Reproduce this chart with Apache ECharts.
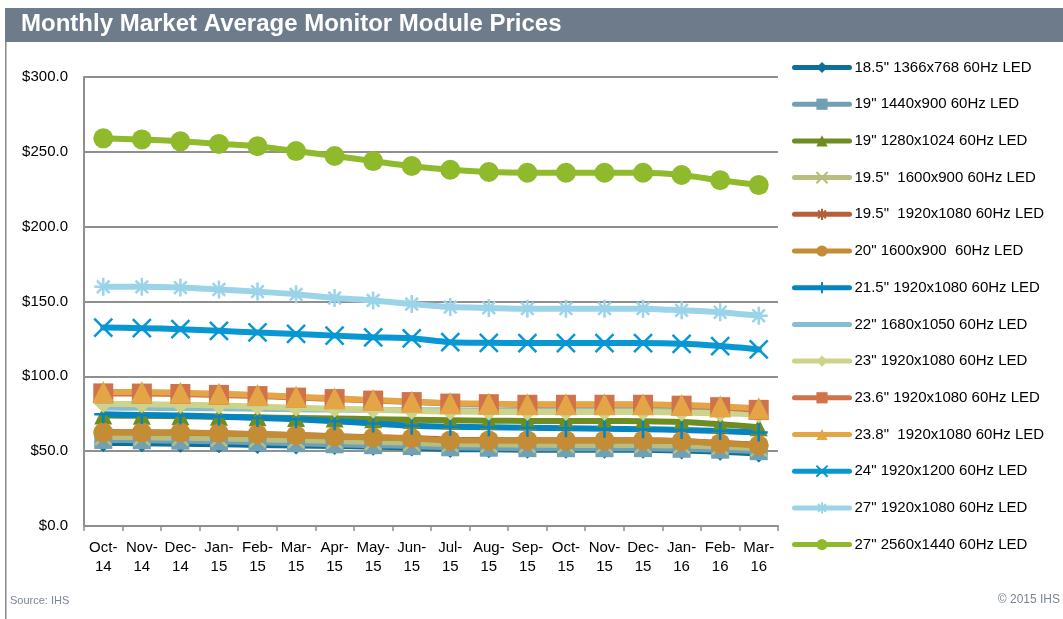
<!DOCTYPE html>
<html>
<head>
<meta charset="utf-8">
<script src="https://cdn.jsdelivr.net/npm/echarts@6/dist/echarts.min.js"></script>
<style>
html,body{margin:0;padding:0;background:#fff;}
#chart{width:1063px;height:619px;}
</style>
</head>
<body>
<div id="chart"></div>
<script>
const months = ['Oct-14','Nov-14','Dec-14','Jan-15','Feb-15','Mar-15','Apr-15','May-15','Jun-15','Jul-15','Aug-15','Sep-15','Oct-15','Nov-15','Dec-15','Jan-16','Feb-16','Mar-16'];
const yTicks = [0, 50, 100, 150, 200, 250, 300];

const names = [
  '18.5" 1366x768 60Hz LED',
  '19" 1440x900 60Hz LED',
  '19" 1280x1024 60Hz LED',
  '19.5"  1600x900 60Hz LED',
  '19.5"  1920x1080 60Hz LED',
  '20" 1600x900  60Hz LED',
  '21.5" 1920x1080 60Hz LED',
  '22" 1680x1050 60Hz LED',
  '23" 1920x1080 60Hz LED',
  '23.6" 1920x1080 60Hz LED',
  '23.8"  1920x1080 60Hz LED',
  '24" 1920x1200 60Hz LED',
  '27" 1920x1080 60Hz LED',
  '27" 2560x1440 60Hz LED'
];

const p18_5_1366 = [55.5, 55.3, 55, 54.6, 54.2, 53.8, 53.4, 53, 52.5, 51.5, 51.2, 51, 51, 51, 51, 50.5, 49.6, 48.5];
const p19_1440   = [57.5, 57.3, 57, 56.6, 56, 55.3, 54.6, 54, 53.4, 52.6, 52.3, 52, 52, 52, 52, 51.6, 51, 50];
const p19_1280   = [73.8, 73.6, 73.3, 73, 72.6, 72.2, 71.8, 71.4, 71, 70.6, 70.4, 70.2, 70.2, 70.2, 70, 69.5, 68, 66];
const p19_5_1600 = [59.5, 59.3, 59, 58.5, 58, 57.4, 56.8, 56.2, 55.6, 54.8, 54.5, 54.3, 54.2, 54.2, 54.2, 53.8, 53, 52];
const p19_5_1920 = [62.8, 62.6, 62.4, 62, 61.4, 60.8, 60, 59.3, 58.8, 57.6, 57.4, 57.3, 57.3, 57.3, 57.3, 56.8, 55.6, 54.3];
const p20_1600   = [62.4, 62.4, 62.4, 62, 61.3, 60.6, 59.8, 59.1, 58.6, 57.2, 57.2, 57.2, 57.2, 57.2, 57.2, 56.6, 55.2, 53.9];
const p21_5_1920 = [74.6, 74.2, 73.8, 73, 72.2, 71.3, 70, 68.5, 67, 66.3, 66, 65.6, 65.3, 65, 64.6, 64.2, 63.4, 62.4];
const p22_1680   = [79.2, 79, 78.8, 78.6, 78.3, 78, 77.8, 77.6, 77.4, 77.3, 77.2, 77.2, 77.2, 77.2, 77.2, 77, 76.8, 76.5];
const p23_1920   = [81.5, 81.4, 81, 80.5, 79.8, 79, 78.3, 77.6, 77, 76.5, 76.3, 76.1, 76.1, 76.1, 76.1, 75.8, 75.3, 74.6];
const p23_6_1920 = [88.6, 88.5, 88.2, 87.6, 86.8, 85.8, 84.8, 83.8, 82.8, 81.8, 81.4, 81, 81, 81, 81, 80.4, 79.4, 77.6];
const p23_8_1920 = [89.5, 89.5, 89.1, 88.4, 87.5, 86.4, 85.3, 84.2, 83.1, 82, 81.7, 81.3, 81.3, 81.3, 81.3, 80.8, 80, 78.6];
const p24_1920   = [132.6, 132.2, 131.5, 130.4, 129.3, 128.3, 127.2, 126.1, 125.4, 122.8, 122.4, 122.2, 122.2, 122.2, 122.2, 121.7, 120.2, 118];
const p27_1920   = [159.8, 159.8, 159.3, 158, 156.6, 154.8, 152.3, 150.7, 148.3, 146.3, 145.7, 145.2, 145.2, 145.2, 145.2, 144.1, 142.8, 140.5];
const p27_2560   = [259, 258.3, 257, 255.3, 253.8, 250.5, 247.2, 243.8, 240.5, 238, 236.5, 236, 236, 236, 236, 234.5, 231, 227.8];

const seriesData = [p18_5_1366, p19_1440, p19_1280, p19_5_1600, p19_5_1920, p20_1600, p21_5_1920, p22_1680, p23_1920, p23_6_1920, p23_8_1920, p24_1920, p27_1920, p27_2560];

const colors = ['#0E6F9B','#6FA0B4','#6E8C22','#B8BE80','#B5603A','#C48C35','#0584C0','#88BDD0','#CDD388','#D0724A','#E3A545','#0797D2','#9BD3E8','#8FBA2C'];

const X_PATH = 'path://M0,0L10,10M10,0L0,10';
const STAR_PATH = 'path://M5,0L5,10M0,5L10,5M1.5,1.5L8.5,8.5M8.5,1.5L1.5,8.5';
const PLUS_PATH = 'path://M5,0L5,10M0,5L10,5';
const symbols = ['diamond','rect','triangle',X_PATH,STAR_PATH,'circle',PLUS_PATH,'none','diamond','rect','triangle',X_PATH,STAR_PATH,'circle'];
const sizes = [18,18,18,16,16,20,18,0,18,20,22,18,18,20];

const series = seriesData.map((d, i) => {
  const stroked = symbols[i].indexOf('path://') === 0;
  return {
    name: names[i],
    type: 'line',
    data: d,
    symbol: symbols[i],
    symbolSize: sizes[i],
    showSymbol: symbols[i] !== 'none',
    smooth: 0.25,
    lineStyle: { width: 6, color: colors[i], cap: 'round', join: 'round' },
    itemStyle: stroked
      ? { color: colors[i], borderColor: colors[i], borderWidth: 2.5, opacity: 1 }
      : { color: colors[i], borderWidth: 0 },
    emphasis: { disabled: true }
  };
});

const legendData = names.map((n, i) => symbols[i] === 'none'
  ? { name: n, itemStyle: { opacity: 0 } }
  : { name: n });

const FONT = '"Liberation Sans", Arial, sans-serif';
const chart = echarts.init(document.getElementById('chart'), null, { renderer: 'canvas' });
chart.setOption({
  animation: false,
  backgroundColor: '#ffffff',
  color: colors,
  textStyle: { fontFamily: FONT },
  grid: { left: 84, right: 285, top: 77, bottom: 93, containLabel: false },
  xAxis: {
    type: 'category',
    data: months,
    boundaryGap: true,
    axisLine: { lineStyle: { color: '#8F8F8F', width: 2 } },
    axisTick: { show: true, length: 5, lineStyle: { color: '#8F8F8F', width: 1.5 } },
    axisLabel: {
      interval: 0,
      margin: 12,
      fontSize: 15,
      color: '#000',
      lineHeight: 19,
      formatter: v => v.replace('-', '-\n')
    }
  },
  yAxis: {
    type: 'value',
    min: yTicks[0],
    max: yTicks[yTicks.length - 1],
    interval: 50,
    axisLine: { show: true, lineStyle: { color: '#8F8F8F', width: 2 } },
    axisTick: { show: false },
    splitLine: { lineStyle: { color: '#8F8F8F', width: 2 } },
    axisLabel: {
      margin: 16,
      fontSize: 15,
      color: '#000',
      formatter: v => '$' + v.toFixed(1)
    }
  },
  legend: {
    orient: 'vertical',
    left: 787,
    top: 55,
    itemWidth: 55,
    itemHeight: 14,
    itemGap: 21.7,
    lineStyle: { width: 5, cap: 'round' },
    textStyle: { fontSize: 15, color: '#000' },
    data: legendData
  },
  graphic: [
    { type: 'rect', left: 5, top: 8, shape: { width: 1058, height: 34 }, style: { fill: '#6E7B8B' }, silent: true },
    { type: 'text', left: 21, top: 12, style: { text: 'Monthly Market Average Monitor Module Prices', fill: '#fff', font: 'bold 24px ' + FONT } },
    { type: 'rect', left: 5, top: 42, shape: { width: 1.5, height: 577 }, style: { fill: '#8A8A8A' }, silent: true },
    { type: 'text', left: 10, top: 595, style: { text: 'Source: IHS', fill: '#7A8594', font: '11px ' + FONT } },
    { type: 'text', right: 3, top: 594, style: { text: '\u00A9 2015 IHS', fill: '#7A8594', font: '12px ' + FONT } }
  ],
  series: series
});
</script>
</body>
</html>
